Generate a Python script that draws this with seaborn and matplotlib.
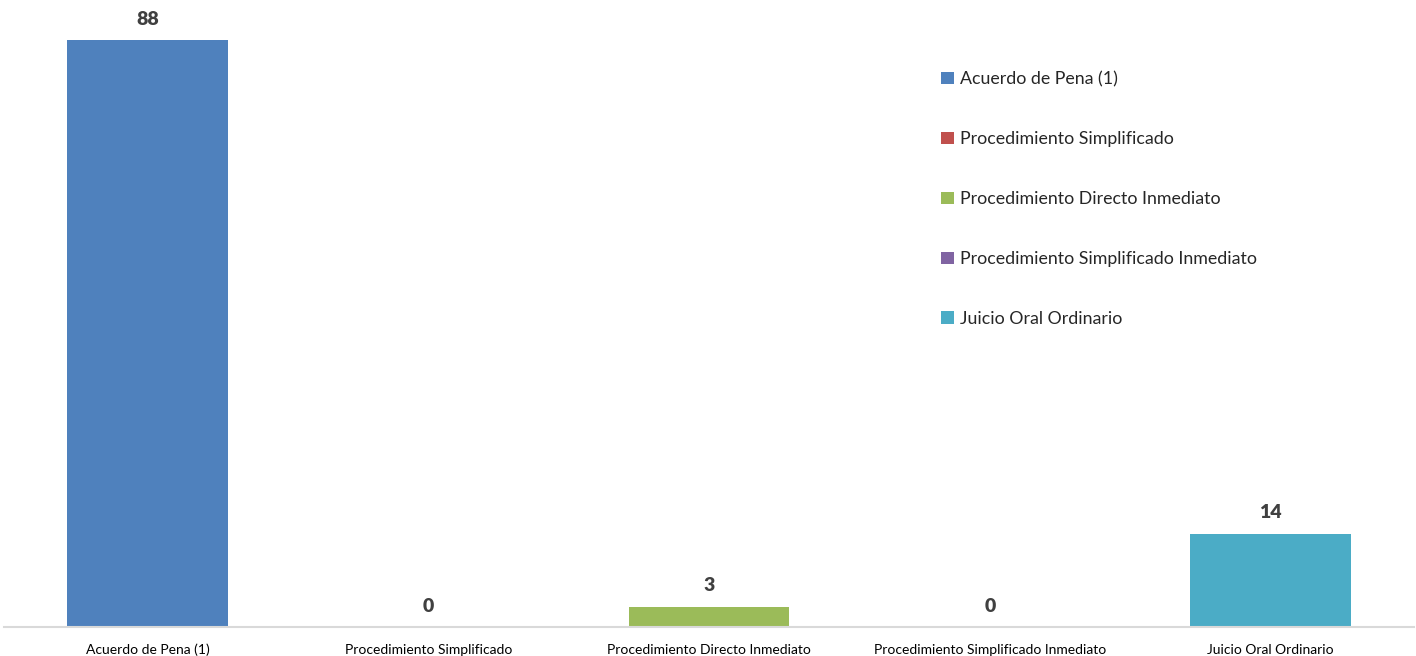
import matplotlib
matplotlib.use("Agg")
import matplotlib.pyplot as plt
import seaborn as sns
import pandas as pd

categories = ["Acuerdo de Pena (1)", "Procedimiento Simplificado", "Procedimiento Directo Inmediato",
              "Procedimiento Simplificado Inmediato", "Juicio Oral Ordinario"]
values = [88, 0, 3, 0, 14]
colors = ["#4F81BD", "#C0504D", "#9BBB59", "#8064A2", "#4BACC6"]

sns.set_theme(style="white")
plt.rcParams['font.family'] = ['Lato', 'DejaVu Sans']

df = pd.DataFrame({"cat": categories, "val": values})

fig = plt.figure(figsize=(14.16, 6.56), dpi=100)
ax = fig.add_axes([7/1416, 29/656, 1404/1416, 627/656])
sns.barplot(data=df, x="cat", y="val", hue="cat", palette=colors, dodge=False,
            width=0.573, legend=True, ax=ax, saturation=1, linewidth=0)
ax.set_xlim(-0.5, 4.5)
ax.set_ylim(0, 94)
ax.set_xlabel("")
ax.set_ylabel("")
ax.set_yticks([])
for s in ["top", "right", "left"]:
    ax.spines[s].set_visible(False)
ax.spines["bottom"].set_color("#D9D9D9")
ax.spines["bottom"].set_linewidth(1.5)
ax.spines["bottom"].set_bounds(-0.51, 4.51)
ax.tick_params(axis="x", length=0, pad=12, labelsize=10, colors="#000000")

for c in ax.containers:
    ax.bar_label(c, labels=[f"{v:.0f}" if v == v else "" for v in c.datavalues],
                 padding=9, fontsize=14, fontweight="heavy", color="#404040")

handles, labels = ax.get_legend_handles_labels()
ax.legend(handles, labels, loc="upper left", bbox_to_anchor=(934/1416, 1 - 64/656),
          bbox_transform=fig.transFigure, frameon=False, fontsize=12.8,
          handlelength=0.7, handleheight=0.7, handletextpad=0.35, labelspacing=2.47,
          borderaxespad=0)

fig.savefig("out.png", dpi=100)
